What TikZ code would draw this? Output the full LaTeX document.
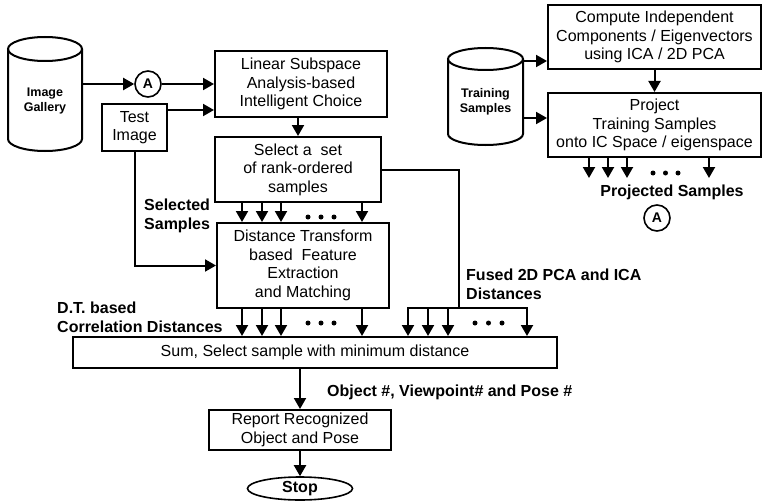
\documentclass[tikz,border=0pt]{standalone}
\usepackage{fontspec}
\setmainfont{Liberation Sans}
\usetikzlibrary{arrows.meta,shapes.geometric,calc}
\begin{document}
\begin{tikzpicture}[x=1pt,y=-1pt,
  lw/.style={line width=2pt},
  arr/.style={lw,-{Triangle[width=12pt,length=11pt]}},
  box/.style={draw,lw,align=center,inner sep=0pt,font=\fontsize{16}{18.5}\selectfont},
  lbl/.style={align=left,inner sep=0pt,font=\fontsize{16}{19}\selectfont\bfseries},
  cyltext/.style={align=center,inner sep=0pt,font=\fontsize{12.5}{15}\selectfont\bfseries},
  conn/.style={draw,circle,line width=1.6pt,minimum size=26pt,inner sep=0pt,font=\fontsize{14}{14}\selectfont\bfseries},
  dotmark/.style={fill,circle,inner sep=0pt,minimum size=5pt}
]
\useasboundingbox (0,0) rectangle (763,503);
\fill[white] (0,0) rectangle (763,503);

% cylinders
\draw[lw,fill=white] (8,49) -- (8,139) arc[start angle=180,end angle=360,x radius=37pt,y radius=12pt] -- (82,49);
\draw[lw] (45,49) ellipse[x radius=37pt,y radius=12pt];
\node[cyltext,minimum width=74pt] (gal) at (45,100.5) {Image\\Gallery};

\draw[lw,fill=white] (448,59) -- (448,134) arc[start angle=180,end angle=360,x radius=37.5pt,y radius=11pt] -- (523,59);
\draw[lw] (485.5,59) ellipse[x radius=37.5pt,y radius=11pt];
\node[cyltext,minimum width=75pt] (trn) at (485.5,101.5) {Training\\Samples};

% boxes
\node[conn] (A1) at (148,84) {A};
\node[box,minimum width=172pt,minimum height=66pt] (lin) at (301,84) {Linear Subspace\\Analysis-based\\Intelligent Choice};
\node[box,minimum width=65pt,minimum height=47pt] (test) at (134.5,127.5) {Test\\Image};
\node[box,minimum width=166pt,minimum height=65pt] (sel) at (298,169.5) {Select a\ \ set\\of rank-ordered\\samples};
\node[box,minimum width=172pt,minimum height=85pt] (dist) at (303,265.5) {Distance Transform\\based\ \ Feature\\Extraction\\and Matching};
\node[box,minimum width=484pt,minimum height=31pt] (sum) at (315,352.5) {Sum, Select sample with minimum distance};
\node[box,minimum width=182pt,minimum height=40pt] (rep) at (300,430) {Report Recognized\\Object and Pose};
\node[draw,ellipse,line width=1.6pt,minimum width=105pt,minimum height=23pt,inner sep=0pt,font=\fontsize{16}{16}\selectfont\bfseries] (stop) at (300,488.5) {Stop};

\node[box,minimum width=213pt,minimum height=64pt] (comp) at (654.5,37) {Compute Independent\\Components / Eigenvectors\\using ICA / 2D PCA};
\node[box,minimum width=213pt,minimum height=64pt] (proj) at (654.5,125) {Project\\Training Samples\\onto IC Space / eigenspace};
\node[conn] (A2) at (657,218) {A};

% labels
\node[lbl,anchor=west] (lsel) at (144,215.5) {Selected\\Samples};
\node[lbl,anchor=west] (ldt) at (57,317) {D.T. based\\Correlation Distances};
\node[lbl,anchor=west] (lfu) at (466,284.5) {Fused 2D PCA and ICA\\Distances};
\node[lbl] (lproj) at (672,192) {Projected Samples};
\node[lbl,anchor=west] (lobj) at (327,392) {Object \#, Viewpoint\# and Pose \#};

% connectors
\draw[arr] (gal.east |- A1) -- (A1);
\draw[arr] (A1) -- (A1 -| lin.west);
\coordinate (t0) at ([yshift=-7pt]test.north east);
\draw[arr] (t0) -- (t0 -| lin.west);
\draw[arr] (sel.north |- lin.south) -- (sel.north);
\draw[arr] (test.south) |- (dist.west);

\foreach \x in {242,262,281,362} {
  \coordinate (p) at (\x,0);
  \draw[arr] (p |- sel.south) -- (p |- dist.north);
  \draw[arr] (p |- dist.south) -- (p |- sum.north);
}
\foreach \x [count=\i] in {308,321,334} {
  \node[dotmark] (da\i) at (\x,217) {};
  \node[dotmark] (db\i) at (\x,323) {};
}

\coordinate (fj) at (459,308);
\coordinate (fl) at (408,308);
\coordinate (fr) at (527,308);
\draw[lw] (sel.east) -| (fj);
\draw[lw,line cap=rect] (fl) -- (fr);
\foreach \x in {408,428,448,527} {
  \coordinate (q) at (\x,308);
  \draw[arr] (q) -- (q |- sum.north);
}
\foreach \x [count=\i] in {475,488.5,502} {
  \node[dotmark] (dc\i) at (\x,323) {};
}

\coordinate (t1) at ([yshift=-24pt]comp.west);
\draw[arr] (t1 -| trn.east) -- (t1);
\coordinate (t2) at ([yshift=7pt]proj.west);
\draw[arr] (t2 -| trn.east) -- (t2);
\draw[arr] (comp) -- (proj);
\foreach \d in {42,61,80,162} {
  \coordinate (r) at ([xshift=\d pt]proj.south west);
  \coordinate (rr) at ([yshift=-20pt]r);
  \draw[arr] (r) -- (rr);
}
\foreach \x [count=\i] in {653,665.5,678} {
  \node[dotmark] (dd\i) at (\x,173) {};
}

\draw[arr] (rep.north |- sum.south) -- (rep.north);
\draw[arr] (rep.south) -- (stop.north);
\end{tikzpicture}
\end{document}
